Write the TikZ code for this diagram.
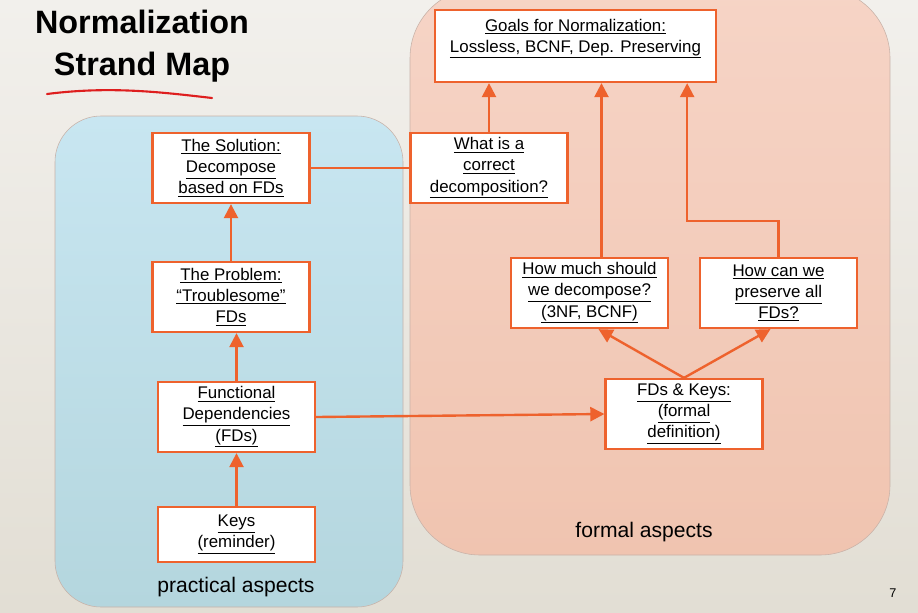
\documentclass[tikz,border=0pt]{standalone}
\usepackage{fontspec}
\setmainfont{Liberation Sans}
\usetikzlibrary{arrows.meta,calc,positioning}
\definecolor{cbox}{RGB}{238,98,45}
\definecolor{cbluetop}{RGB}{200,230,241}
\definecolor{cbluebot}{RGB}{180,214,222}
\definecolor{csalmtop}{RGB}{246,212,198}
\definecolor{csalmbot}{RGB}{240,196,176}
\definecolor{cedge}{RGB}{200,178,168}
\definecolor{cbgtop}{RGB}{242,240,236}
\definecolor{cbgbot}{RGB}{226,222,212}
\definecolor{cred}{RGB}{222,30,30}
\tikzset{
  box/.style={rectangle,fill=white,draw=cbox,line width=1.6pt,
    minimum width=3.925cm,minimum height=1.75cm,align=center,inner sep=2pt,
    font=\fontsize{12}{15}\selectfont},
  arr/.style={-{Triangle[length=10pt,width=10pt]},draw=cbox,line width=1.7pt},
  link/.style={draw=cbox,line width=1.7pt},
  aspect/.style={font=\fontsize{15}{18}\selectfont}
}
\newcommand{\uln}[1]{\underline{#1}}

\begin{document}
\begin{tikzpicture}[x=0.025cm,y=-0.025cm]
  \useasboundingbox (0,0) rectangle (918,612);
  \shade[top color=cbgtop,bottom color=cbgbot] (0,0) rectangle (918,612);
  % the two strands
  \begin{scope}
    \clip (0,0) rectangle (918,612);
    \shade[rounded corners=1.15cm,top color=cbluetop,bottom color=cbluebot,
      draw=cedge,thin] (55,116) rectangle (403,607);
    \shade[rounded corners=1.75cm,top color=csalmtop,bottom color=csalmbot,
      draw=cedge,thin] (410,-12) rectangle (890,555);
  \end{scope}
  \node[font=\fontsize{23}{30}\selectfont\bfseries,align=center] (title) at (142,46)
    {Normalization\\Strand Map};
  \draw[cred,line width=1.5pt,line cap=round] (47,94) .. controls (110,86) and (160,92) .. (212,98);
  % boxes
  \node[box,minimum width=7.025cm,minimum height=1.8cm] (goals) at (575.5,46)
    {\uln{Goals for Normalization:}\\\uln{Lossless, BCNF, Dep. Preserving}\\ \mbox{}};
  \node[box] (what) at (489,168) {\uln{What is a}\\\uln{correct}\\\uln{decomposition?}};
  \node[box] (sol) at (231,168) {\uln{The Solution:}\\\uln{Decompose}\\\uln{based on FDs}};
  \node[box] (prob) at (231,297) {\uln{The Problem:}\\\uln{``Troublesome''}\\\uln{FDs}};
  \node[box] (fd) at (236.5,417) {\uln{Functional}\\\uln{Dependencies}\\\uln{(FDs)}};
  \node[box,minimum height=1.375cm] (keys) at (236.5,534.5) {\uln{Keys}\\\uln{(reminder)}};
  \node[box] (howmuch) at (589.5,293) {\uln{How much should}\\\uln{we decompose?}\\\uln{(3NF, BCNF)}};
  \node[box] (canwe) at (778.5,293) {\uln{How can we}\\\uln{preserve all}\\\uln{FDs?}};
  \node[box] (fdk) at (684,414) {\uln{FDs \& Keys:}\\\uln{(formal}\\\uln{definition)}};
  \node[aspect] (formal) at (644,532) {formal aspects};
  \node[aspect] (practical) at (236,587) {practical aspects};
  \node[font=\fontsize{9}{11}\selectfont] (pg) at (893,593) {7};
  % connectors
  \draw[link] (sol.east) -- (what.west);
  \draw[arr] (what.north) -- (what.north |- goals.south);
  \coordinate (mtop) at ($(howmuch.north)+(12,0)$);
  \draw[arr] (mtop) -- (mtop |- goals.south);
  \coordinate (gtop) at ($(goals.south east)+(-30,0)$);
  \draw[arr] (canwe.north) -- ++(0,-36) -| (gtop);
  \draw[arr] (prob.north) -- (sol.south);
  \draw[arr] (fd.north) -- (fd.north |- prob.south);
  \draw[arr] (keys.north) -- (fd.south);
  \draw[arr] (fd.east) -- (fdk.west);
  \draw[arr] (fdk.north) -- ($(howmuch.south)+(9,0)$);
  \draw[arr] (fdk.north) -- ($(canwe.south)+(-8,0)$);
\end{tikzpicture}
\end{document}
